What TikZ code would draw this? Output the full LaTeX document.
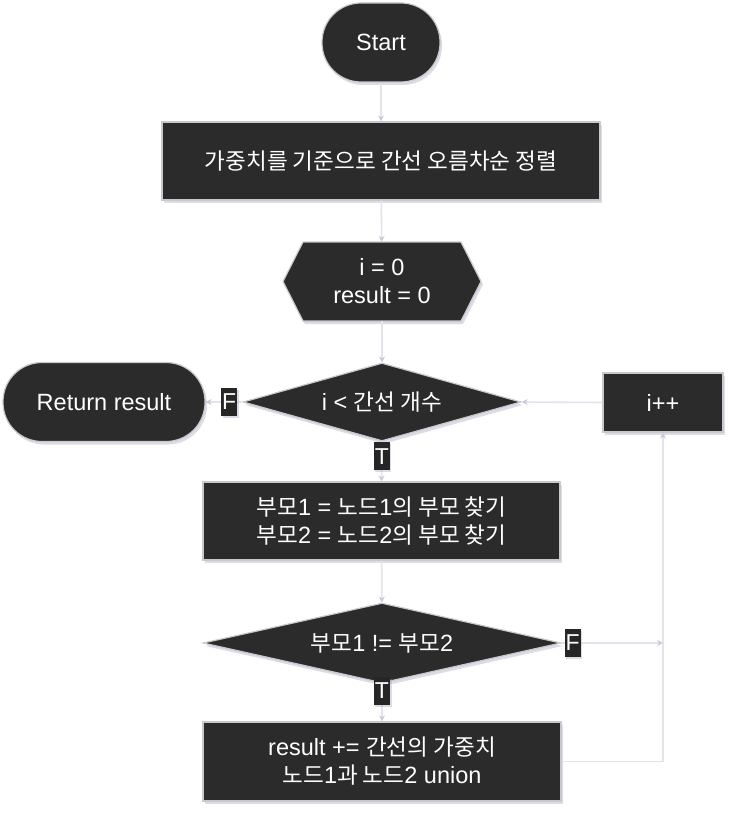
\documentclass[tikz,border=0pt]{standalone}
\usepackage{fontspec}
\setmainfont{Liberation Sans}
\newfontfamily\kr{Noto Sans CJK KR}[Scale=0.96]
\usetikzlibrary{shapes.geometric,shadows,arrows.meta}
\definecolor{boxfill}{HTML}{2B2B2B}
\definecolor{boxline}{HTML}{C9C9CC}
\definecolor{wire}{HTML}{E3E3EB}
\definecolor{tip}{HTML}{C9C9D9}
\definecolor{shade}{HTML}{9A9AB8}
\tikzset{
  base/.style={fill=boxfill, draw=boxline, line width=1.2pt, text=white, align=center,
    font=\fontsize{23.5}{28}\selectfont, inner sep=0pt,
    drop shadow={fill=shade, opacity=.35, shadow xshift=2pt, shadow yshift=-3pt}},
  term/.style={base, rectangle, rounded corners=39pt, minimum height=79pt},
  procbox/.style={base, rectangle, minimum height=78pt},
  decide/.style={base, diamond, aspect=3.5},
  flow/.style={draw=wire, line width=1.6pt, -{Stealth[length=6pt,width=6pt,color=tip]}},
  tf/.style={fill=black!85, text=white, inner xsep=1pt, inner ysep=0pt, minimum height=28pt,
    font=\fontsize{23}{26}\selectfont,
    drop shadow={fill=shade, opacity=.35, shadow xshift=1.5pt, shadow yshift=-2pt}}
}
\begin{document}
\begin{tikzpicture}[x=1pt,y=-1pt]
        \useasboundingbox (0,0) rectangle (733,813);
        \node[term, minimum width=118pt] (start) at (381,42.5) {Start};
        \node[procbox, minimum width=438pt] (sort) at (381,161) {{\kr 가중치를 기준으로 간선 오름차순 정렬}};
        % hexagon for the init step
        \filldraw[fill=boxfill, draw=boxline, line width=1.2pt,
          drop shadow={fill=shade, opacity=.35, shadow xshift=2pt, shadow yshift=-3pt}]
          (283,281.5) -- (303,242) -- (461,242) -- (481,281.5) -- (461,321) -- (303,321) -- cycle;
        \node[text=white, align=center, font=\fontsize{23.5}{28}\selectfont, minimum width=198pt, minimum height=79pt, inner sep=0pt] (init) at (382,281.5) {i = 0\\result = 0};
        \node[decide, minimum width=278pt, minimum height=78pt] (cond) at (382,402) {i < {\kr 간선 개수}};
        \node[term, minimum width=202pt] (ret) at (104,402) {Return result};
        \node[procbox, minimum width=120pt, minimum height=59pt] (inc) at (663,402.5) {i++};
        \node[procbox, minimum width=357pt] (find) at (381.5,521) {{\kr 부모}1 = {\kr 노드}1{\kr 의 부모 찾기}\\{\kr 부모}2 = {\kr 노드}2{\kr 의 부모 찾기}};
        \node[decide, minimum width=358pt, minimum height=80pt] (cmp) at (382,643) {{\kr 부모}1 != {\kr 부모}2};
        \node[procbox, minimum width=358pt, minimum height=79pt] (add) at (382,761.5) {result += {\kr 간선의 가중치}\\{\kr 노드}1{\kr 과 노드}2 union};
        \coordinate (join) at (663,643);

        \draw[flow] (start) -- (sort);
        \draw[flow] (sort) -- (init);
        \draw[flow] (init) -- (cond);
        \draw[flow] (cond.west) -- node[tf, pos=.36] {F} (ret.east);
        \draw[flow] (cond.south) -- node[tf, pos=.37] {T} (find.north);
        \draw[flow] (inc.west) -- (cond.east);
        \draw[flow] (find) -- (cmp);
        \draw[flow] (cmp.south) -- node[tf, pos=.19] {T} (add.north);
        \draw[flow] (cmp.east) -- node[tf, pos=.11] {F} (join);
        \draw[flow] (add.east) -| (inc.south);
        \end{tikzpicture}
\end{document}
